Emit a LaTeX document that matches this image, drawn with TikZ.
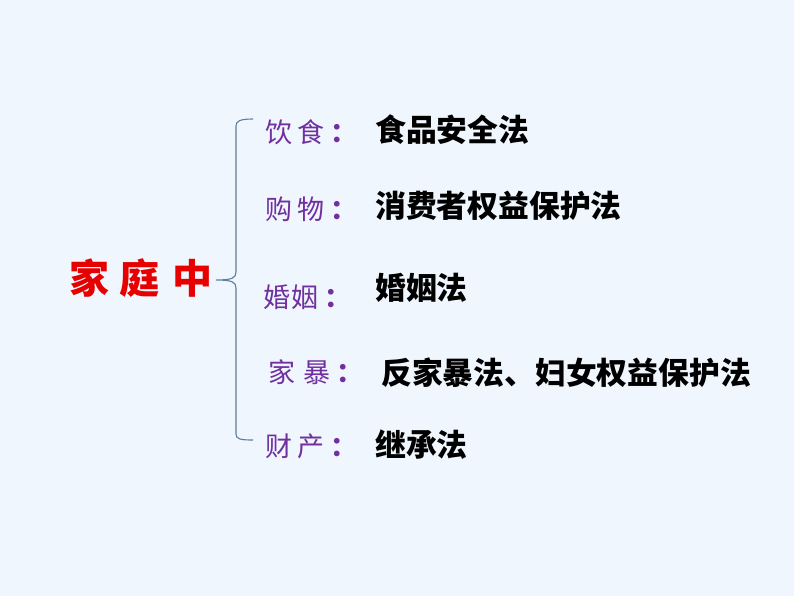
\documentclass[tikz,border=0pt]{standalone}
\usepackage{fontspec}
\newfontfamily\cjk{Noto Sans CJK SC}
\definecolor{bgc}{RGB}{239,246,253}
\definecolor{purp}{RGB}{112,48,160}
\definecolor{bracec}{RGB}{95,125,155}
\definecolor{titlered}{RGB}{230,0,0}
\begin{document}
\begin{tikzpicture}[x=1pt,y=-1pt,
  lab/.style={anchor=west,inner sep=0pt,text=purp,font=\cjk\fontsize{27}{27}\selectfont},
  law/.style={anchor=west,inner sep=0pt,text=black,font=\cjk\bfseries\fontsize{30.8}{30.8}\selectfont},
  ttl/.style={anchor=center,inner sep=0pt,text=titlered,font=\cjk\bfseries\fontsize{40}{40}\selectfont}]
\fill[bgc] (0,0) rectangle (794,596);
\useasboundingbox (0,0) rectangle (794,596);
% title
\node[ttl] (t1) at (89,278) {家};
\node[ttl] (t2) at (139,278) {庭};
\node[ttl] (t3) at (192,278) {中};
% brace
\coordinate (btop) at (253,119);
\coordinate (bbot) at (253,440);
\coordinate (btip) at (216,280);
\draw[bracec,line width=1.1pt] (btop) .. controls (240,119) and (236,121) .. (236,126)
  -- (236,272) .. controls (236,278) and (232,280) .. (btip)
  .. controls (232,280) and (236,282) .. (236,288)
  -- (236,434) .. controls (236,439) and (240,440) .. (bbot);
% labels
\node[lab] (l1) at (265,132) {饮\hspace{5pt}食\hspace{6pt}{\bfseries ：}};
\node[lab] (l2) at (265,209) {购\hspace{5pt}物\hspace{6pt}{\bfseries ：}};
\node[lab] (l3) at (263,297) {婚\hspace{1pt}姻\hspace{6pt}{\bfseries ：}};
\node[lab] (l4) at (268,372) {家\hspace{8pt}暴\hspace{6pt}{\bfseries ：}};
\node[lab] (l5) at (265,446) {财\hspace{5pt}产\hspace{6pt}{\bfseries ：}};
% laws
\node[law] (w1) at (375,130) {食品安全法};
\node[law] (w2) at (375,206) {消费者权益保护法};
\node[law] (w3) at (375,288) {婚姻法};
\node[law] (w4) at (381,373) {反家暴法、妇女权益保护法};
\node[law] (w5) at (375,445) {继承法};
\end{tikzpicture}
\end{document}
